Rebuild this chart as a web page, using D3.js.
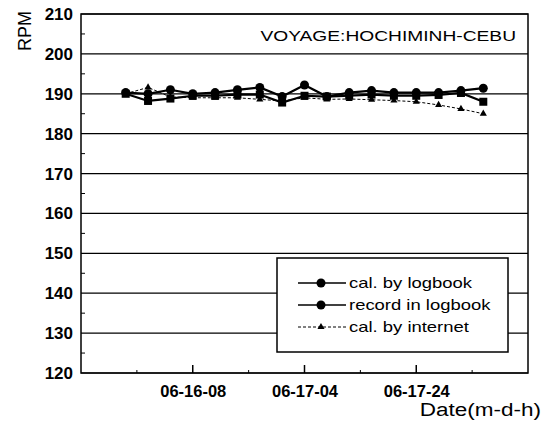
<!DOCTYPE html>
<html>
<head>
<meta charset="utf-8">
<script src="https://cdn.jsdelivr.net/npm/d3@7"></script>
<style>
  body { margin: 0; background: #fff; }
  text { font-family: "Liberation Sans", Arial, sans-serif; fill: #000; }
</style>
</head>
<body>
<div id="chart"></div>
<script>
// hours counted from 06-15-12
var hours = [8, 12, 16, 20, 24, 28, 32, 36, 40, 44, 48, 52, 56, 60, 64, 68, 72];
var calLogbook = [190.0, 188.2, 188.8, 189.5, 189.5, 189.8, 189.8, 187.8, 189.5, 189.3, 189.5, 189.8, 189.5, 189.5, 189.7, 190.2, 188.0];
var recLogbook = [190.3, 190.0, 191.0, 190.0, 190.3, 191.0, 191.6, 189.3, 192.2, 189.3, 190.3, 190.8, 190.3, 190.3, 190.3, 190.8, 191.4];
var calInternet = [190.0, 191.6, 189.2, 189.0, 189.0, 189.0, 188.6, 188.2, 189.0, 188.6, 188.7, 188.5, 188.3, 188.0, 187.2, 186.2, 185.0];
var xTicks = [20, 40, 60];
var xTickLabels = ["06-16-08", "06-17-04", "06-17-24"];
var yTicks = [120, 130, 140, 150, 160, 170, 180, 190, 200, 210];
var legendNames = ["cal. by logbook", "record in logbook", "cal. by internet"];

var W = 546, H = 425;
var margin = { top: 14, right: 18, bottom: 52, left: 81 };
var width = W - margin.left - margin.right,
  height = H - margin.top - margin.bottom;

var svg = d3.select("#chart").append("svg")
  .attr("width", W).attr("height", H);
var g = svg.append("g")
  .attr("transform", "translate(" + margin.left + "," + margin.top + ")");

var x = d3.scaleLinear().domain([0, 80]).range([0, width]);
var y = d3.scaleLinear().domain([120, 210]).range([height, 0]);

// the scanned font is wider than Arial: widen glyphs round the anchor
function wideText(parent, tx, ty, sx, anchor, size, str) {
  return parent.append("text")
    .attr("transform", "translate(" + tx + "," + ty + ") scale(" + sx + ",1)")
    .attr("text-anchor", anchor)
    .style("font-size", size + "px")
    .text(str);
}

// horizontal grid
g.append("g")
  .selectAll("line").data(yTicks).enter().append("line")
  .attr("x1", 0).attr("x2", width)
  .attr("y1", d => y(d)).attr("y2", d => y(d))
  .attr("stroke", "#000").attr("stroke-width", 1.2);

// y minor ticks (inward)
g.append("g")
  .selectAll("line").data(d3.range(125, 210, 10)).enter().append("line")
  .attr("x1", 0).attr("x2", 4)
  .attr("y1", d => y(d)).attr("y2", d => y(d))
  .attr("stroke", "#000").attr("stroke-width", 1);

// y axis labels
var yAxis = g.append("g")
  .call(d3.axisLeft(y).tickValues(yTicks).tickSize(0).tickPadding(8));
yAxis.select(".domain").remove();
yAxis.selectAll("text")
  .style("font-family", "Liberation Sans, Arial, sans-serif")
  .style("font-size", "17px").style("font-weight", "bold");

// x axis ticks inward and labels
var xAxis = g.append("g")
  .attr("transform", "translate(0," + height + ")")
  .call(d3.axisBottom(x).tickValues(xTicks)
    .tickFormat((d, i) => xTickLabels[i]).tickSize(0).tickPadding(12));
xAxis.select(".domain").remove();
xAxis.selectAll("text")
  .style("font-family", "Liberation Sans, Arial, sans-serif")
  .style("font-size", "16.5px").style("font-weight", "bold");
g.append("g")
  .selectAll("line").data(xTicks).enter().append("line")
  .attr("x1", d => x(d)).attr("x2", d => x(d))
  .attr("y1", height).attr("y2", height - 8)
  .attr("stroke", "#000").attr("stroke-width", 1.5);
g.append("g")
  .selectAll("line").data(d3.range(10, 80, 20)).enter().append("line")
  .attr("x1", d => x(d)).attr("x2", d => x(d))
  .attr("y1", height).attr("y2", height - 3)
  .attr("stroke", "#000").attr("stroke-width", 1);

// frame
g.append("rect")
  .attr("width", width).attr("height", height)
  .attr("fill", "none").attr("stroke", "#000").attr("stroke-width", 1.5);

// series
var series = [
  { vals: calInternet, w: 1, dash: "3,2", marker: "tri" },
  { vals: calLogbook, w: 2.2, dash: null, marker: "sq" },
  { vals: recLogbook, w: 2.2, dash: null, marker: "circ" }
];

var line = d3.line().x((d, i) => x(hours[i])).y(d => y(d));

function drawMarker(sel, type, px, py) {
  if (type === "sq") {
    sel.append("rect").attr("x", px - 4).attr("y", py - 4)
      .attr("width", 8).attr("height", 8).attr("fill", "#000");
  } else if (type === "circ") {
    sel.append("circle").attr("cx", px).attr("cy", py).attr("r", 4.5).attr("fill", "#000");
  } else {
    sel.append("path")
      .attr("d", d3.symbol().type(d3.symbolTriangle).size(22)())
      .attr("transform", "translate(" + px + "," + py + ")")
      .attr("fill", "#000");
  }
}

series.forEach(function (s) {
  g.append("path").datum(s.vals)
    .attr("d", line)
    .attr("fill", "none").attr("stroke", "#000")
    .attr("stroke-width", s.w)
    .attr("stroke-dasharray", s.dash);
  var mg = g.append("g");
  s.vals.forEach(function (v, i) {
    drawMarker(mg, s.marker, x(hours[i]), y(v));
  });
});

// title
wideText(g, width - 12, 27, 1.28, "end", 15, "VOYAGE:HOCHIMINH-CEBU");

// legend
var lg = svg.append("g").attr("transform", "translate(277,258)");
lg.append("rect").attr("width", 231).attr("height", 94)
  .attr("fill", "#fff").attr("stroke", "#000").attr("stroke-width", 1.5);
var legMarkers = ["circ", "circ", "tri"];
legendNames.forEach(function (name, i) {
  var ly = 25 + i * 22;
  lg.append("line").attr("x1", 21).attr("x2", 69)
    .attr("y1", ly).attr("y2", ly)
    .attr("stroke", "#000")
    .attr("stroke-width", i === 2 ? 1 : 1.5)
    .attr("stroke-dasharray", i === 2 ? "3,2" : null);
  drawMarker(lg, legMarkers[i], 44, ly);
  wideText(lg, 72, ly + 5, 1.23, "start", 15, name);
});

// axis titles
svg.append("text")
  .attr("transform", "translate(31,31) rotate(-90)")
  .attr("text-anchor", "middle")
  .style("font-size", "18px")
  .text("RPM");
wideText(svg, 541, 416, 1.25, "end", 18, "Date(m-d-h)");
</script>
</body>
</html>
